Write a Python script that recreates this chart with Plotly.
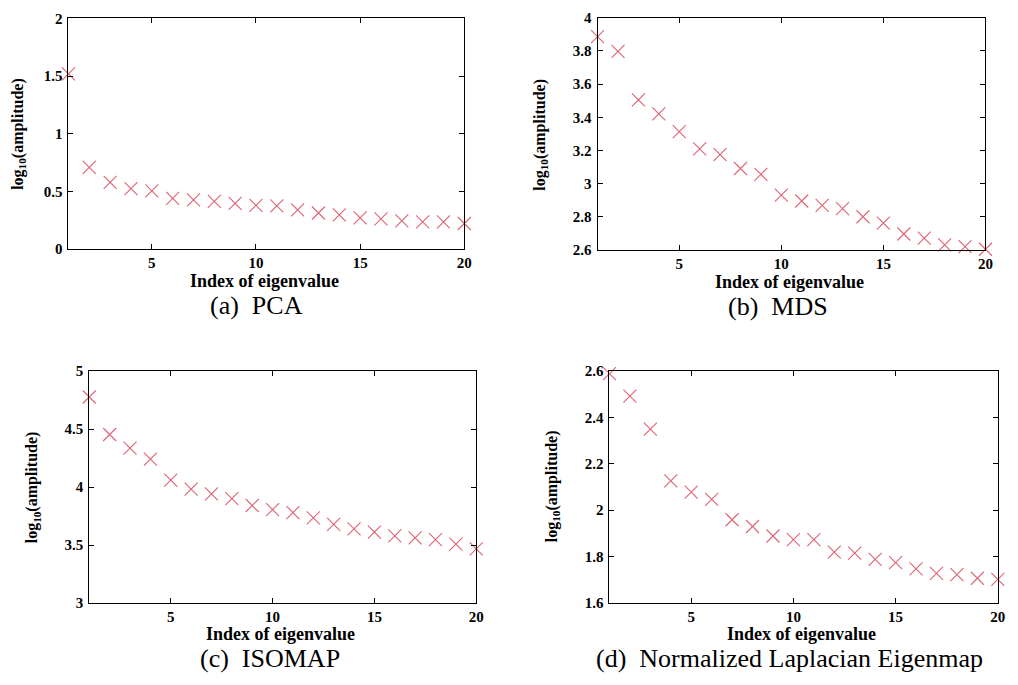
import plotly.graph_objects as go

# Eigenvalue index (first 20 eigenvalues)
index = list(range(1, 21))

# log10 of the eigenvalue amplitudes for each embedding method
pca = [1.52, 0.71, 0.58, 0.525, 0.506, 0.44, 0.427, 0.415, 0.398, 0.381,
       0.375, 0.342, 0.314, 0.297, 0.271, 0.263, 0.246, 0.238, 0.237, 0.223]
mds = [3.886, 3.798, 3.505, 3.421, 3.313, 3.209, 3.175, 3.091, 3.056, 2.930,
       2.895, 2.869, 2.849, 2.800, 2.761, 2.696, 2.671, 2.631, 2.620, 2.604]
isomap = [4.776, 4.453, 4.335, 4.240, 4.060, 3.982, 3.942, 3.900, 3.841, 3.805,
          3.780, 3.735, 3.679, 3.639, 3.611, 3.580, 3.561, 3.547, 3.508, 3.468]
laplacian = [2.589, 2.492, 2.350, 2.127, 2.078, 2.047, 1.959, 1.930, 1.889, 1.873,
             1.873, 1.820, 1.815, 1.788, 1.774, 1.747, 1.728, 1.723, 1.707, 1.702]

captions = ["(a)  PCA", "(b)  MDS", "(c)  ISOMAP", "(d)  Normalized Laplacian Eigenmap"]

x_ticks = [5, 10, 15, 20]
y_ticks = [
    [0, 0.5, 1, 1.5, 2],
    [2.6, 2.8, 3, 3.2, 3.4, 3.6, 3.8, 4],
    [3, 3.5, 4, 4.5, 5],
    [1.6, 1.8, 2, 2.2, 2.4, 2.6],
]
y_tick_text = [
    ["0", "0.5", "1", "1.5", "2"],
    ["2.6", "2.8", "3", "3.2", "3.4", "3.6", "3.8", "4"],
    ["3", "3.5", "4", "4.5", "5"],
    ["1.6", "1.8", "2", "2.2", "2.4", "2.6"],
]
y_ranges = [[0, 2], [2.6, 4], [3, 5], [1.6, 2.6]]

W, H = 1018, 685
# Plot-area boxes in pixels: (left, right, top, bottom)
boxes = [
    (69, 468, 10.7, 247),
    (602.3, 993.3, 10, 247.7),
    (90, 480, 371.7, 609.3),
    (614.3, 1005.7, 371.7, 609.3),
]
# Label anchors in pixels: x-title (cx, cy), caption (cx, cy), y-title (cx, cy)
xtitle_pos = [(266.7, 279.5), (796, 280.5), (283, 640.5), (808, 640.5)]
caption_pos = [(259, 304.5), (784, 305.5), (272, 666), (796, 666)]
ytitle_pos = [(19, 129), (545, 130), (33, 491), (557, 490)]

series = [pca, mds, isomap, laplacian]

SERIF = "Liberation Serif"
tick_font = dict(family=SERIF, size=15, color="black", weight="bold")
xtitle_font = dict(family=SERIF, size=18, color="black")
ytitle_font = dict(family=SERIF, size=16, color="black")
caption_font = dict(family=SERIF, size=26, color="black")
mark_color = "rgb(222,100,115)"

fig = go.Figure()
layout = dict(
    width=W, height=H,
    margin=dict(l=0, r=0, t=0, b=0),
    paper_bgcolor="white", plot_bgcolor="white",
    showlegend=False,
)
annotations = []

for i, vals in enumerate(series):
    n = "" if i == 0 else str(i + 1)
    l, r, t, b = boxes[i]
    fig.add_trace(go.Scatter(
        x=index, y=vals, mode="markers",
        xaxis="x" + n, yaxis="y" + n,
        cliponaxis=False,
        marker=dict(symbol="x-thin-open", size=13,
                    line=dict(color=mark_color, width=1.1),
                    color=mark_color),
    ))
    common = dict(
        showline=True, linecolor="black", linewidth=1,
        mirror="ticks", ticks="inside", ticklen=5, tickcolor="black",
        showgrid=False, zeroline=False, tickfont=tick_font,
    )
    layout["xaxis" + n] = dict(
        common, domain=[l / W, r / W], anchor="y" + n,
        range=[1, 20], tickvals=x_ticks, ticktext=[str(v) for v in x_ticks],
        ticklabelstandoff=0,
    )
    layout["yaxis" + n] = dict(
        common, domain=[1 - b / H, 1 - t / H], anchor="x" + n,
        range=y_ranges[i], tickvals=y_ticks[i], ticktext=y_tick_text[i],
        ticklabelstandoff=2,
    )
    cx, cy = xtitle_pos[i]
    annotations.append(dict(
        text="<b>Index of eigenvalue</b>", x=cx / W, y=1 - cy / H,
        xref="paper", yref="paper", showarrow=False, font=xtitle_font,
        xanchor="center", yanchor="middle",
    ))
    cx, cy = caption_pos[i]
    annotations.append(dict(
        text=captions[i], x=cx / W, y=1 - cy / H,
        xref="paper", yref="paper", showarrow=False, font=caption_font,
        xanchor="center", yanchor="middle",
    ))
    cx, cy = ytitle_pos[i]
    annotations.append(dict(
        text="<b>log<sub>10</sub>(amplitude)</b>", x=cx / W, y=1 - cy / H,
        xref="paper", yref="paper", showarrow=False, font=ytitle_font,
        textangle=-90, xanchor="center", yanchor="middle",
    ))

layout["annotations"] = annotations
fig.update_layout(**layout)
fig.write_html("out.html")
